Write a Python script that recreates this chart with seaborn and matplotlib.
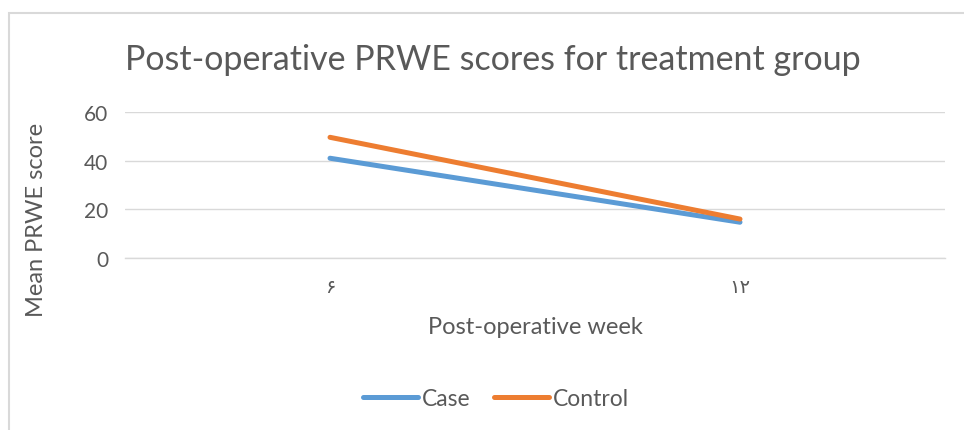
from matplotlib import pyplot as plt
from matplotlib.patches import Rectangle
import seaborn as sns
import pandas as pd

weeks = ["۶", "۱۲"]
case_scores = [41.0, 14.7]
control_scores = [49.6, 16.0]

df = pd.DataFrame({
    "week": weeks * 2,
    "score": case_scores + control_scores,
    "group": ["Case"] * len(weeks) + ["Control"] * len(weeks),
})

sns.set_style("white")
plt.rcParams["font.family"] = ["Lato", "DejaVu Sans"]
grey = "#595959"

fig = plt.figure(figsize=(9.64, 4.31), dpi=100)
ax = fig.add_axes([125 / 964, 1 - 259 / 431, 820 / 964, 146 / 431])

sns.lineplot(
    data=df,
    x="week",
    y="score",
    hue="group",
    palette=["#5B9BD5", "#ED7D31"],
    linewidth=3.6,
    sort=False,
    ax=ax,
)

ax.set_xlim(-0.5, 1.5)
ax.set_ylim(0, 60)
ax.set_yticks([0, 20, 40, 60])
ax.grid(axis="y", color="#D9D9D9", linewidth=1)
ax.set_axisbelow(True)
for s in ["top", "right", "left"]:
    ax.spines[s].set_visible(False)
ax.spines["bottom"].set_color("#D9D9D9")
ax.spines["bottom"].set_linewidth(1)
ax.tick_params(axis="both", length=0, colors=grey, labelsize=15)
ax.tick_params(axis="x", pad=14)
ax.tick_params(axis="y", pad=12)
for t in ax.get_xticklabels():
    t.set_fontfamily(["DejaVu Sans"])
    t.set_fontsize(14)

ax.set_xlabel("Post-operative week", fontsize=17, color=grey, labelpad=14)
ax.set_ylabel("Mean PRWE score", fontsize=17, color=grey)
ax.yaxis.set_label_coords(-0.095, 0.27)

fig.text(0.511, 0.86, "Post-operative PRWE scores for treatment group",
         ha="center", va="center", fontsize=24.5, color=grey)

ax.legend(loc="center", bbox_to_anchor=(496 / 964, 1 - 400 / 431),
          bbox_transform=fig.transFigure, ncol=2, frameon=False,
          handlelength=2.4, handletextpad=0.2, columnspacing=1.0,
          fontsize=16.5, labelcolor=grey)

fig.patches.append(Rectangle((9 / 964, -0.1), 1.1, 1 - 14 / 431 + 0.1,
                             transform=fig.transFigure, fill=False,
                             edgecolor="#D9D9D9", linewidth=1.5))

fig.savefig("out.png", dpi=100)
